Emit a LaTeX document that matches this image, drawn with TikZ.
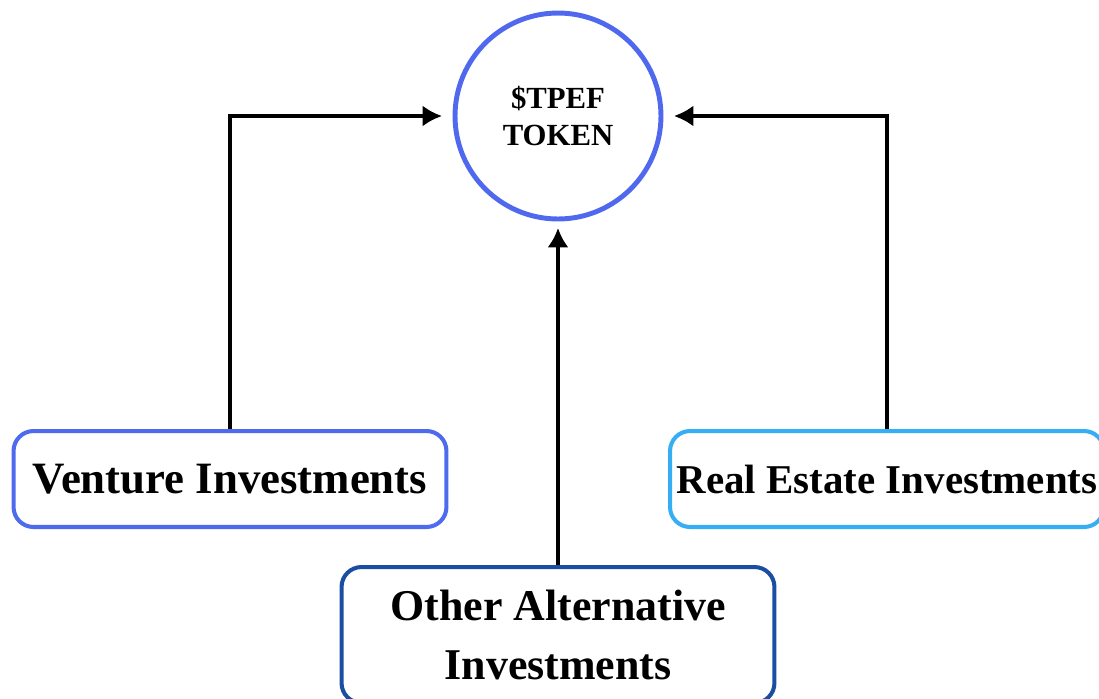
\documentclass[tikz,border=0pt]{standalone}
\usepackage{fontspec}
\setmainfont{Liberation Serif}
\usepackage{tikz}
\usetikzlibrary{shapes,arrows.meta}
\definecolor{tokblue}{HTML}{5068EE}
\definecolor{ventblue}{HTML}{4E6BEE}
\definecolor{estblue}{HTML}{36AEF4}
\definecolor{othblue}{HTML}{1A4EA3}
\tikzset{
	token/.style    = {draw=tokblue, circle, line width=2.8pt, minimum size=4.12cm,
		inner sep=0pt, align=center, font=\fontsize{17.5}{20.5}\selectfont\bfseries},
	invest/.style   = {draw, rounded corners=0.4cm, line width=2.3pt, minimum width=8.66cm,
		minimum height=1.92cm, inner sep=0pt, align=center, font=\fontsize{25}{34}\selectfont\bfseries}
}

\begin{document}
\begin{tikzpicture}[x=0.02cm, y=-0.02cm, line width=2.3pt, >={Latex[length=11pt,width=12pt]}]
	\useasboundingbox (0,0) rectangle (1099,698);
	\draw
	node at (558,116) [token] (tok) {\$TPEF\\TOKEN}
	node at (230,479) [invest, draw=ventblue, font=\fontsize{25.5}{34}\selectfont\bfseries] (vent) {Venture Investments}
	node at (887,479) [invest, draw=estblue, minimum width=8.68cm, font=\fontsize{23.3}{34}\selectfont\bfseries] (est) {Real Estate Investments}
	node at (558,635) [invest, draw=othblue, minimum height=2.72cm] (oth) {Other Alternative\\Investments};
	
	\draw[->, shorten >=0.21cm](vent.north)|-(tok.west);
	\draw[->, shorten >=0.21cm](est.north)|-(tok.east);
	\draw[->, shorten >=0.13cm](oth.north)--(tok.south);
\end{tikzpicture}
\end{document}
